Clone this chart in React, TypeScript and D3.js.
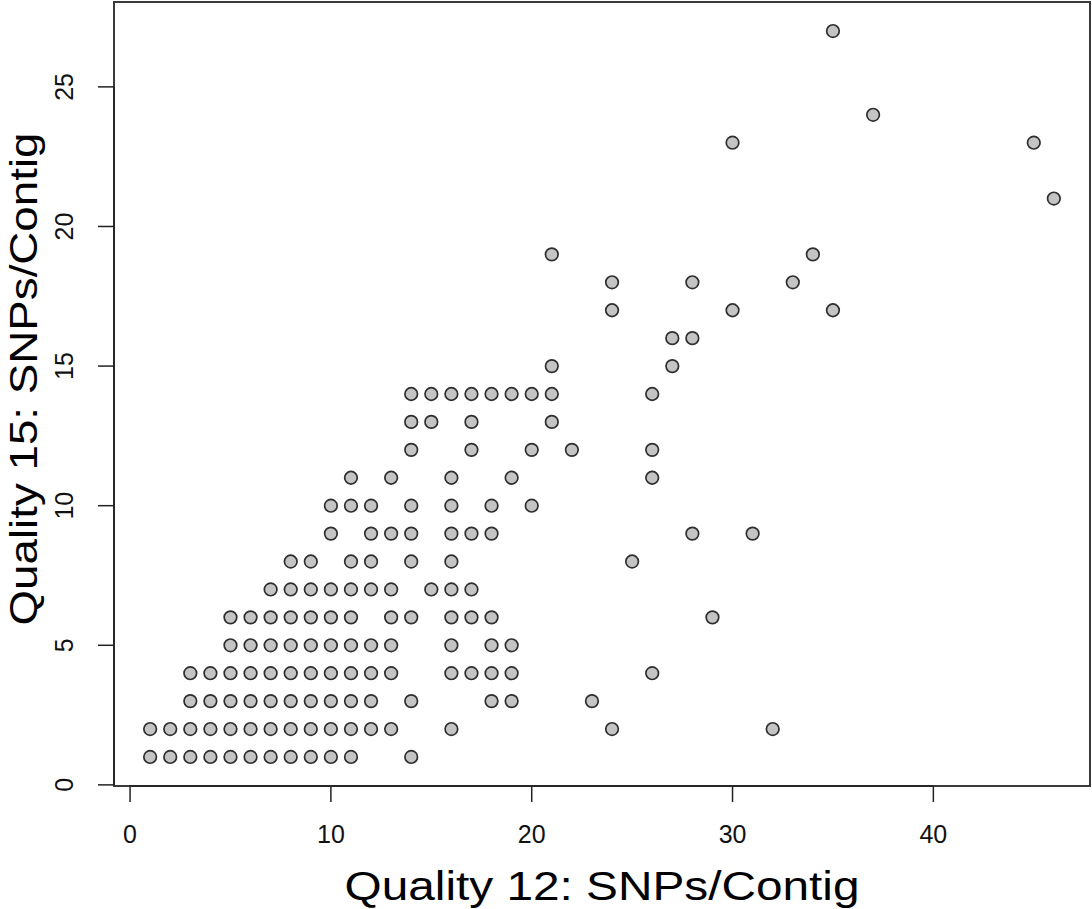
import React from "react";
import * as d3 from "d3";

// Quality 15 SNP count (y) and the Quality 12 SNP counts (x) seen at that level
const q15Levels = [1, 2, 3, 4, 5, 6, 7, 8, 9, 10, 11, 12, 13, 14, 15, 16, 17, 18, 19, 21, 23, 24, 27];
const q12ByLevel = [
  [1, 2, 3, 4, 5, 6, 7, 8, 9, 10, 11, 14],
  [1, 2, 3, 4, 5, 6, 7, 8, 9, 10, 11, 12, 13, 16, 24, 32],
  [3, 4, 5, 6, 7, 8, 9, 10, 11, 12, 14, 18, 19, 23],
  [3, 4, 5, 6, 7, 8, 9, 10, 11, 12, 13, 16, 17, 18, 19, 26],
  [5, 6, 7, 8, 9, 10, 11, 12, 13, 16, 18, 19],
  [5, 6, 7, 8, 9, 10, 11, 13, 14, 16, 17, 18, 29],
  [7, 8, 9, 10, 11, 12, 13, 15, 16, 17],
  [8, 9, 11, 12, 14, 16, 25],
  [10, 12, 13, 14, 16, 17, 18, 28, 31],
  [10, 11, 12, 14, 16, 18, 20],
  [11, 13, 16, 19, 26],
  [14, 17, 20, 22, 26],
  [14, 15, 17, 21],
  [14, 15, 16, 17, 18, 19, 20, 21, 26],
  [21, 27],
  [27, 28],
  [24, 30, 35],
  [24, 28, 33],
  [21, 34],
  [46],
  [30, 45],
  [37],
  [35],
];

const xTicks = [0, 10, 20, 30, 40];
const yTicks = [0, 5, 10, 15, 20, 25];

const xLabel = "Quality 12: SNPs/Contig";
const yLabel = "Quality 15: SNPs/Contig";

const W = 1092;
const H = 909;

export default function App() {
  const points = q15Levels.flatMap((q15, i) => q12ByLevel[i].map((q12) => ({ q12, q15 })));

  // R-style 4% padding around the data range
  const x = d3.scaleLinear().domain([-0.8, 47.8]).range([114, 1090]);
  const y = d3.scaleLinear().domain([-0.04, 28.04]).range([786, 2]);

  const font = "'Liberation Sans', Arial, Helvetica, sans-serif";
  const tickLen = 16;

  return (
    <svg
      width={W}
      height={H}
      style={{ position: "absolute", left: 0, top: 0, background: "#fff" }}
      fontFamily={font}
    >
      {/* points */}
      {points.map((d, i) => (
        <circle
          key={i}
          cx={x(d.q12)}
          cy={y(d.q15)}
          r={6.3}
          fill="#c4c4c4"
          stroke="#2e2e2e"
          strokeWidth={1.7}
        />
      ))}

      {/* plot box */}
      <rect
        x={x.range()[0]}
        y={y.range()[1]}
        width={x.range()[1] - x.range()[0]}
        height={y.range()[0] - y.range()[1]}
        fill="none"
        stroke="#3a3a3a"
        strokeWidth={2}
      />

      {/* x axis */}
      <line x1={x(0)} x2={x(40)} y1={786} y2={786} stroke="#222" strokeWidth={1.5} />
      {xTicks.map((t) => (
        <g key={t} transform={`translate(${x(t)},786)`}>
          <line y2={tickLen} stroke="#222" strokeWidth={1.5} />
          <text y={57} textAnchor="middle" fontSize={25} fill="#111">
            {t}
          </text>
        </g>
      ))}

      {/* y axis */}
      <line x1={114} x2={114} y1={y(0)} y2={y(25)} stroke="#222" strokeWidth={1.5} />
      {yTicks.map((t) => (
        <g key={t} transform={`translate(114,${y(t)})`}>
          <line x2={-tickLen} stroke="#222" strokeWidth={1.5} />
          <text transform="translate(-41,0) rotate(-90)" textAnchor="middle" fontSize={25} fill="#111">
            {t}
          </text>
        </g>
      ))}

      {/* axis titles */}
      <text
        x={602}
        y={900}
        textAnchor="middle"
        fontSize={40}
        textLength={515}
        lengthAdjust="spacingAndGlyphs"
        fill="#000"
      >
        {xLabel}
      </text>
      <text
        transform="translate(37,379) rotate(-90)"
        textAnchor="middle"
        fontSize={39}
        textLength={493}
        lengthAdjust="spacingAndGlyphs"
        fill="#000"
      >
        {yLabel}
      </text>
    </svg>
  );
}
